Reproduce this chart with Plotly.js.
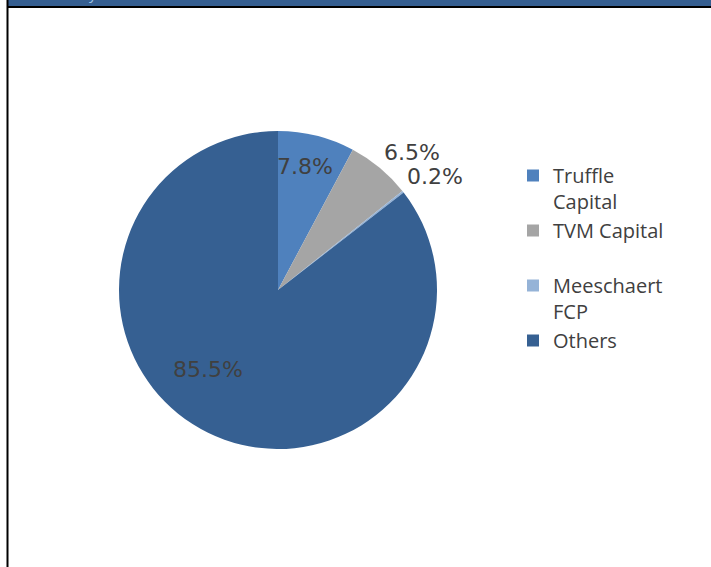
<!DOCTYPE html>
<html>
<head>
<meta charset="utf-8">
<script src="https://cdn.plot.ly/plotly-3.0.1.min.js"></script>
<style>html,body{margin:0;padding:0;background:#fff;}#chart{width:711px;height:567px;}</style>
</head>
<body>
<div id="chart"></div>
<script>
var labels = ["Truffle<br>Capital", "TVM Capital<br> ", "Meeschaert<br>FCP", "Others"];
var values = [7.8, 6.5, 0.2, 85.5];
var colors = ["#4F81BD", "#A5A5A5", "#95B3D7", "#366092"];

var W = 711, H = 567;
var cx = 278, cy = 290, r = 159;
// label centres in pixels (layout only)
var labelPx = [[305, 166], [411.5, 152], [435, 176], [208, 369]];

var trace = {
  type: "pie",
  labels: labels,
  values: values,
  sort: false,
  direction: "clockwise",
  rotation: 0,
  marker: {colors: colors, line: {color: "#ffffff", width: 0}},
  textinfo: "none",
  hoverinfo: "label+percent",
  domain: {x: [(cx - r) / W, (cx + r) / W], y: [(H - cy - r) / H, (H - cy + r) / H]},
  automargin: false
};

var annotations = values.map(function (v, i) {
  return {
    xref: "paper", yref: "paper",
    x: labelPx[i][0] / W, y: 1 - labelPx[i][1] / H,
    xanchor: "center", yanchor: "middle",
    text: v.toFixed(1) + "%", showarrow: false,
    font: {family: "DejaVu Sans", size: 22, color: "#404040"}
  };
});
annotations.push({xref: "paper", yref: "paper", x: 93 / W, y: 1 - 5 / H, xanchor: "center", yanchor: "bottom",
  text: "y", showarrow: false, font: {family: "Open Sans", size: 15, color: "#9DC3E6"}});

var layout = {
  width: W, height: H,
  margin: {l: 0, r: 0, t: 0, b: 0},
  paper_bgcolor: "#ffffff",
  showlegend: true,
  legend: {
    x: 513 / W, y: 1 - 156 / H, xanchor: "left", yanchor: "top",
    font: {family: "Open Sans", size: 20, color: "#404040"},
    valign: "top", itemwidth: 30, tracegroupgap: 0,
    bgcolor: "rgba(0,0,0,0)"
  },
  shapes: [
    {type: "rect", xref: "paper", yref: "paper", x0: 8 / W, x1: 1, y0: 1 - 6 / H, y1: 1.01, fillcolor: "#365F91", line: {width: 0}, layer: "below"},
    {type: "line", xref: "paper", yref: "paper", x0: 7 / W, x1: 1, y0: 1 - 7 / H, y1: 1 - 7 / H, line: {color: "#000000", width: 2}},
    {type: "line", xref: "paper", yref: "paper", x0: 7.5 / W, x1: 7.5 / W, y0: 0, y1: 1.01, line: {color: "#000000", width: 2}}
  ],
  annotations: annotations
};

Plotly.newPlot("chart", [trace], layout, {displayModeBar: false, staticPlot: true});
</script>
</body>
</html>
